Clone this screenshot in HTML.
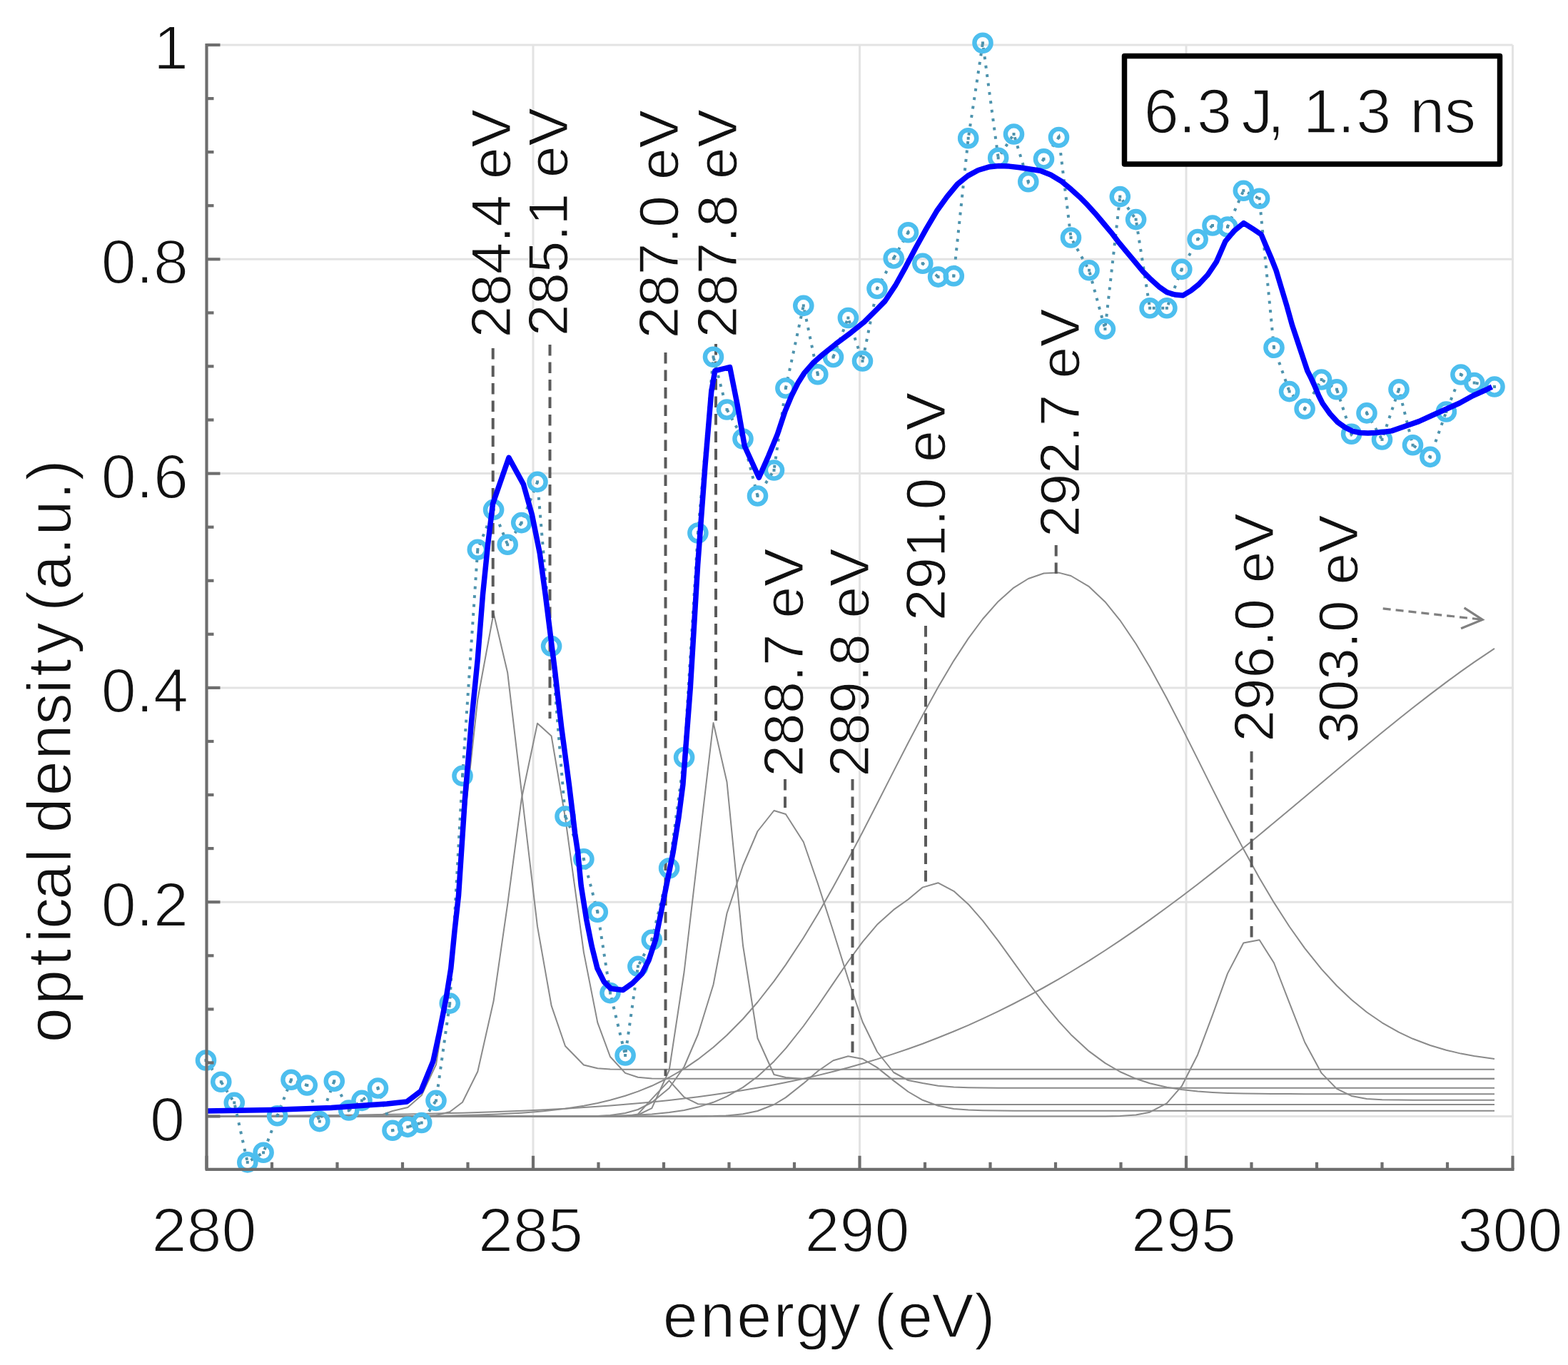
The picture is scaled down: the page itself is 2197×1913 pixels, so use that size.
<!DOCTYPE html>
<html><head><meta charset="utf-8"><style>html,body{margin:0;padding:0;background:#fff;overflow:hidden}svg{display:block;filter:blur(0.7px)}</style></head>
<body><svg width="2197" height="1913" viewBox="0 0 2197 1913">
<rect width="2197" height="1913" fill="#fff"/>
<g stroke="#e3e3e3" stroke-width="3"><line x1="747.0" y1="63.0" x2="747.0" y2="1638.5"/><line x1="1204.5" y1="63.0" x2="1204.5" y2="1638.5"/><line x1="1662.0" y1="63.0" x2="1662.0" y2="1638.5"/><line x1="2119.5" y1="63.0" x2="2119.5" y2="1638.5"/><line x1="289.5" y1="1564.5" x2="2119.5" y2="1564.5"/><line x1="289.5" y1="1264.2" x2="2119.5" y2="1264.2"/><line x1="289.5" y1="963.9" x2="2119.5" y2="963.9"/><line x1="289.5" y1="663.6" x2="2119.5" y2="663.6"/><line x1="289.5" y1="363.3" x2="2119.5" y2="363.3"/><line x1="289.5" y1="63.0" x2="2119.5" y2="63.0"/></g>
<g fill="none" stroke="#8a8a8a" stroke-width="2" stroke-linejoin="round"><polyline points="288.5,1564.5 309.8,1564.5 328.3,1564.5 346.8,1564.5 369.1,1564.5 388.6,1564.5 408.0,1564.5 430.3,1564.5 447.8,1564.5 468.3,1564.5 488.7,1564.5 507.0,1564.5 529.5,1564.5 550.0,1557.0 571.3,1552.0 590.7,1535.0 611.0,1492.0 630.2,1370.0 648.0,1176.0 669.3,980.0 691.6,859.5 711.2,942.8 730.7,1109.0 753.0,1298.4 772.6,1409.4 792.0,1466.0 817.9,1492.5 837.3,1497.3 855.0,1498.4 876.1,1498.7 893.9,1498.7 913.3,1498.7 937.6,1498.7 958.6,1498.7 977.9,1498.7 999.5,1498.7 1018.5,1498.7 1041.0,1498.7 1061.5,1498.7 1084.5,1498.7 1100.9,1498.7 1125.8,1498.7 1145.8,1498.7 1167.5,1498.7 1188.4,1498.7 1208.5,1498.7 1229.0,1498.7 1252.2,1498.7 1272.5,1498.7 1292.8,1498.7 1314.6,1498.7 1336.3,1498.7 1356.7,1498.7 1377.0,1498.7 1398.7,1498.7 1420.5,1498.7 1440.8,1498.7 1462.5,1498.7 1483.5,1498.7 1500.5,1498.7 1526.0,1498.7 1548.4,1498.7 1569.3,1498.7 1591.6,1498.7 1611.1,1498.7 1634.9,1498.7 1655.8,1498.7 1678.1,1498.7 1699.0,1498.7 1720.0,1498.7 1742.3,1498.7 1764.6,1498.7 1785.0,1498.7 1806.6,1498.7 1828.1,1498.7 1851.6,1498.7 1873.0,1498.7 1893.6,1498.7 1915.0,1498.7 1936.5,1498.7 1960.0,1498.7 1979.5,1498.7 2003.9,1498.7 2026.4,1498.7 2046.9,1498.7 2065.7,1498.7 2094.0,1498.7"/><polyline points="288.5,1564.5 309.8,1564.5 328.3,1564.5 346.8,1564.5 369.1,1564.5 388.6,1564.5 408.0,1564.5 430.3,1564.5 447.8,1564.5 468.3,1564.5 488.7,1564.5 507.0,1564.5 529.5,1564.5 550.0,1564.5 571.3,1564.5 590.7,1564.2 611.0,1563.0 630.2,1558.3 648.0,1544.7 669.3,1501.7 691.6,1402.8 711.2,1267.2 730.7,1119.8 753.0,1013.7 772.6,1031.5 792.0,1145.8 817.9,1334.6 837.3,1433.1 855.0,1481.0 876.1,1503.9 893.9,1509.8 913.3,1511.4 937.6,1511.8 958.6,1511.8 977.9,1511.8 999.5,1511.8 1018.5,1511.8 1041.0,1511.8 1061.5,1511.8 1084.5,1511.8 1100.9,1511.8 1125.8,1511.8 1145.8,1511.8 1167.5,1511.8 1188.4,1511.8 1208.5,1511.8 1229.0,1511.8 1252.2,1511.8 1272.5,1511.8 1292.8,1511.8 1314.6,1511.8 1336.3,1511.8 1356.7,1511.8 1377.0,1511.8 1398.7,1511.8 1420.5,1511.8 1440.8,1511.8 1462.5,1511.8 1483.5,1511.8 1500.5,1511.8 1526.0,1511.8 1548.4,1511.8 1569.3,1511.8 1591.6,1511.8 1611.1,1511.8 1634.9,1511.8 1655.8,1511.8 1678.1,1511.8 1699.0,1511.8 1720.0,1511.8 1742.3,1511.8 1764.6,1511.8 1785.0,1511.8 1806.6,1511.8 1828.1,1511.8 1851.6,1511.8 1873.0,1511.8 1893.6,1511.8 1915.0,1511.8 1936.5,1511.8 1960.0,1511.8 1979.5,1511.8 2003.9,1511.8 2026.4,1511.8 2046.9,1511.8 2065.7,1511.8 2094.0,1511.8"/><polyline points="288.5,1564.5 309.8,1564.5 328.3,1564.5 346.8,1564.5 369.1,1564.5 388.6,1564.5 408.0,1564.5 430.3,1564.5 447.8,1564.5 468.3,1564.5 488.7,1564.5 507.0,1564.5 529.5,1564.5 550.0,1564.5 571.3,1564.5 590.7,1564.5 611.0,1564.5 630.2,1564.5 648.0,1564.5 669.3,1564.5 691.6,1564.5 711.2,1564.5 730.7,1564.5 753.0,1564.5 772.6,1564.5 792.0,1564.5 817.9,1564.5 837.3,1564.5 855.0,1564.5 876.1,1564.2 893.9,1562.5 913.3,1553.1 937.6,1500.0 958.6,1362.0 977.9,1197.0 999.5,1013.0 1018.5,1096.0 1041.0,1325.0 1061.5,1455.0 1084.5,1506.0 1100.9,1510.0 1125.8,1512.0 1145.8,1511.8 1167.5,1511.8 1188.4,1511.8 1208.5,1511.8 1229.0,1511.8 1252.2,1511.8 1272.5,1511.8 1292.8,1511.8 1314.6,1511.8 1336.3,1511.8 1356.7,1511.8 1377.0,1511.8 1398.7,1511.8 1420.5,1511.8 1440.8,1511.8 1462.5,1511.8 1483.5,1511.8 1500.5,1511.8 1526.0,1511.8 1548.4,1511.8 1569.3,1511.8 1591.6,1511.8 1611.1,1511.8 1634.9,1511.8 1655.8,1511.8 1678.1,1511.8 1699.0,1511.8 1720.0,1511.8 1742.3,1511.8 1764.6,1511.8 1785.0,1511.8 1806.6,1511.8 1828.1,1511.8 1851.6,1511.8 1873.0,1511.8 1893.6,1511.8 1915.0,1511.8 1936.5,1511.8 1960.0,1511.8 1979.5,1511.8 2003.9,1511.8 2026.4,1511.8 2046.9,1511.8 2065.7,1511.8 2094.0,1511.8"/><polyline points="288.5,1564.5 309.8,1564.5 328.3,1564.5 346.8,1564.5 369.1,1564.5 388.6,1564.5 408.0,1564.5 430.3,1564.5 447.8,1564.5 468.3,1564.5 488.7,1564.5 507.0,1564.5 529.5,1564.5 550.0,1564.5 571.3,1564.5 590.7,1564.5 611.0,1564.5 630.2,1564.5 648.0,1564.5 669.3,1564.5 691.6,1564.5 711.2,1564.5 730.7,1564.5 753.0,1564.5 772.6,1564.5 792.0,1564.5 817.9,1564.3 837.3,1563.9 855.0,1563.1 876.1,1560.0 893.9,1555.0 913.3,1545.0 937.6,1525.0 958.6,1495.0 977.9,1450.0 999.5,1380.0 1018.5,1280.0 1041.0,1213.0 1061.5,1165.0 1084.5,1136.0 1100.9,1141.0 1125.8,1180.0 1145.8,1238.0 1167.5,1305.0 1188.4,1372.0 1208.5,1432.0 1229.0,1474.0 1252.2,1503.0 1272.5,1514.0 1292.8,1518.0 1314.6,1521.7 1336.3,1523.6 1356.7,1524.3 1377.0,1524.6 1398.7,1524.7 1420.5,1524.7 1440.8,1524.7 1462.5,1524.7 1483.5,1524.7 1500.5,1524.7 1526.0,1524.7 1548.4,1524.7 1569.3,1524.7 1591.6,1524.7 1611.1,1524.7 1634.9,1524.7 1655.8,1524.7 1678.1,1524.7 1699.0,1524.7 1720.0,1524.7 1742.3,1524.7 1764.6,1524.7 1785.0,1524.7 1806.6,1524.7 1828.1,1524.7 1851.6,1524.7 1873.0,1524.7 1893.6,1524.7 1915.0,1524.7 1936.5,1524.7 1960.0,1524.7 1979.5,1524.7 2003.9,1524.7 2026.4,1524.7 2046.9,1524.7 2065.7,1524.7 2094.0,1524.7"/><polyline points="288.5,1564.5 309.8,1564.5 328.3,1564.5 346.8,1564.5 369.1,1564.5 388.6,1564.5 408.0,1564.5 430.3,1564.5 447.8,1564.5 468.3,1564.5 488.7,1564.5 507.0,1564.5 529.5,1564.5 550.0,1564.5 571.3,1564.5 590.7,1564.5 611.0,1564.5 630.2,1564.5 648.0,1564.5 669.3,1564.5 691.6,1564.5 711.2,1564.5 730.7,1564.5 753.0,1564.5 772.6,1564.4 792.0,1564.4 817.9,1564.3 837.3,1564.1 855.0,1563.8 876.1,1563.3 893.9,1562.6 913.3,1561.5 937.6,1559.1 958.6,1555.9 977.9,1551.6 999.5,1544.8 1018.5,1536.7 1041.0,1523.9 1061.5,1508.7 1084.5,1487.4 1100.9,1469.4 1125.8,1438.0 1145.8,1410.0 1167.5,1378.1 1188.4,1347.5 1208.5,1320.1 1229.0,1295.8 1252.2,1274.9 1272.5,1260.5 1292.8,1243.6 1314.6,1237.3 1336.3,1248.8 1356.7,1267.2 1377.0,1290.3 1398.7,1318.6 1420.5,1348.8 1440.8,1377.0 1462.5,1405.9 1483.5,1431.4 1500.5,1449.9 1526.0,1473.4 1548.4,1489.9 1569.3,1502.0 1591.6,1511.8 1611.1,1518.2 1634.9,1523.8 1655.8,1527.1 1678.1,1529.5 1699.0,1530.9 1720.0,1531.9 1742.3,1532.5 1764.6,1532.8 1785.0,1533.0 1806.6,1533.1 1828.1,1533.2 1851.6,1533.2 1873.0,1533.3 1893.6,1533.3 1915.0,1533.3 1936.5,1533.3 1960.0,1533.3 1979.5,1533.3 2003.9,1533.3 2026.4,1533.3 2046.9,1533.3 2065.7,1533.3 2094.0,1533.3"/><polyline points="288.5,1564.5 309.8,1564.5 328.3,1564.5 346.8,1564.5 369.1,1564.5 388.6,1564.5 408.0,1564.5 430.3,1564.5 447.8,1564.5 468.3,1564.4 488.7,1564.4 507.0,1564.4 529.5,1564.3 550.0,1564.2 571.3,1564.1 590.7,1563.9 611.0,1563.7 630.2,1563.4 648.0,1563.0 669.3,1562.5 691.6,1561.7 711.2,1560.8 730.7,1559.7 753.0,1558.0 772.6,1556.1 792.0,1553.8 817.9,1549.8 837.3,1546.0 855.0,1541.8 876.1,1535.7 893.9,1529.6 913.3,1521.8 937.6,1510.0 958.6,1497.8 977.9,1484.7 999.5,1467.8 1018.5,1450.8 1041.0,1428.0 1061.5,1404.5 1084.5,1375.1 1100.9,1352.1 1125.8,1314.2 1145.8,1281.2 1167.5,1243.1 1188.4,1204.6 1208.5,1166.2 1229.0,1126.2 1252.2,1080.6 1272.5,1041.0 1292.8,1002.4 1314.6,962.8 1336.3,926.1 1356.7,894.9 1377.0,867.5 1398.7,842.9 1420.5,823.6 1440.8,811.0 1462.5,803.5 1483.5,802.6 1500.5,807.0 1526.0,822.2 1548.4,843.4 1569.3,869.3 1591.6,902.3 1611.1,935.1 1634.9,978.7 1655.8,1019.4 1678.1,1063.9 1699.0,1105.9 1720.0,1147.5 1742.3,1190.1 1764.6,1230.5 1785.0,1264.9 1806.6,1298.5 1828.1,1328.8 1851.6,1358.1 1873.0,1381.5 1893.6,1401.0 1915.0,1418.5 1936.5,1433.3 1960.0,1446.7 1979.5,1455.8 2003.9,1465.0 2026.4,1471.7 2046.9,1476.6 2065.7,1480.1 2094.0,1484.1"/><polyline points="288.5,1564.5 309.8,1564.5 328.3,1564.5 346.8,1564.5 369.1,1564.5 388.6,1564.5 408.0,1564.5 430.3,1564.5 447.8,1564.5 468.3,1564.5 488.7,1564.5 507.0,1564.5 529.5,1564.5 550.0,1564.5 571.3,1564.5 590.7,1564.5 611.0,1564.5 630.2,1564.5 648.0,1564.5 669.3,1564.5 691.6,1564.5 711.2,1564.5 730.7,1564.5 753.0,1564.5 772.6,1564.5 792.0,1564.5 817.9,1564.5 837.3,1564.5 855.0,1564.5 876.1,1564.5 893.9,1564.5 913.3,1564.5 937.6,1564.5 958.6,1564.5 977.9,1564.5 999.5,1564.5 1018.5,1564.5 1041.0,1564.5 1061.5,1564.5 1084.5,1564.5 1100.9,1564.5 1125.8,1564.5 1145.8,1564.5 1167.5,1564.5 1188.4,1564.5 1208.5,1564.5 1229.0,1564.5 1252.2,1564.5 1272.5,1564.5 1292.8,1564.5 1314.6,1564.5 1336.3,1564.5 1356.7,1564.5 1377.0,1564.5 1398.7,1564.5 1420.5,1564.5 1440.8,1564.5 1462.5,1564.5 1483.5,1564.5 1500.5,1564.5 1526.0,1564.5 1548.4,1564.4 1569.3,1564.0 1591.6,1562.6 1611.1,1558.7 1634.9,1546.2 1655.8,1522.2 1678.1,1478.2 1699.0,1422.4 1720.0,1364.4 1742.3,1321.5 1764.6,1317.2 1785.0,1349.5 1806.6,1405.3 1828.1,1460.5 1851.6,1503.9 1873.0,1525.9 1893.6,1535.9 1915.0,1539.9 1936.5,1541.2 1960.0,1541.6 1979.5,1541.7 2003.9,1541.7 2026.4,1541.7 2046.9,1541.7 2065.7,1541.7 2094.0,1541.7"/><polyline points="288.5,1564.0 309.8,1563.9 328.3,1563.9 346.8,1563.8 369.1,1563.7 388.6,1563.5 408.0,1563.4 430.3,1563.2 447.8,1563.1 468.3,1562.9 488.7,1562.7 507.0,1562.4 529.5,1562.1 550.0,1561.8 571.3,1561.4 590.7,1561.0 611.0,1560.6 630.2,1560.1 648.0,1559.7 669.3,1559.0 691.6,1558.3 711.2,1557.6 730.7,1556.8 753.0,1555.8 772.6,1554.8 792.0,1553.7 817.9,1552.1 837.3,1550.8 855.0,1549.5 876.1,1547.8 893.9,1546.3 913.3,1544.5 937.6,1541.9 958.6,1539.5 977.9,1537.2 999.5,1534.3 1018.5,1531.5 1041.0,1528.0 1061.5,1524.5 1084.5,1520.2 1100.9,1517.0 1125.8,1511.7 1145.8,1507.1 1167.5,1501.7 1188.4,1496.2 1208.5,1490.5 1229.0,1484.4 1252.2,1476.9 1272.5,1470.0 1292.8,1462.7 1314.6,1454.3 1336.3,1445.5 1356.7,1436.8 1377.0,1427.6 1398.7,1417.3 1420.5,1406.5 1440.8,1395.9 1462.5,1384.0 1483.5,1372.1 1500.5,1362.0 1526.0,1346.4 1548.4,1332.0 1569.3,1318.2 1591.6,1302.9 1611.1,1289.1 1634.9,1271.8 1655.8,1256.2 1678.1,1239.2 1699.0,1222.9 1720.0,1206.2 1742.3,1188.2 1764.6,1169.9 1785.0,1153.0 1806.6,1135.0 1828.1,1117.0 1851.6,1097.2 1873.0,1079.2 1893.6,1062.0 1915.0,1044.2 1936.5,1026.6 1960.0,1007.5 1979.5,992.0 2003.9,973.1 2026.4,956.1 2046.9,941.1 2065.7,927.9 2094.0,908.8"/><polyline points="288.5,1564.5 309.8,1564.5 328.3,1564.5 346.8,1564.5 369.1,1564.5 388.6,1564.5 408.0,1564.5 430.3,1564.5 447.8,1564.5 468.3,1564.5 488.7,1564.5 507.0,1564.5 529.5,1564.5 550.0,1564.5 571.3,1564.5 590.7,1564.5 611.0,1564.5 630.2,1564.5 648.0,1564.5 669.3,1564.5 691.6,1564.5 711.2,1564.5 730.7,1564.5 753.0,1564.5 772.6,1564.5 792.0,1564.5 817.9,1564.5 837.3,1564.5 855.0,1564.5 876.1,1564.4 893.9,1561.4 913.3,1540.1 937.6,1514.4 958.6,1537.6 977.9,1547.2 999.5,1548.0 1018.5,1548.0 1041.0,1548.0 1061.5,1548.0 1084.5,1548.0 1100.9,1548.0 1125.8,1548.0 1145.8,1548.0 1167.5,1548.0 1188.4,1548.0 1208.5,1548.0 1229.0,1548.0 1252.2,1548.0 1272.5,1548.0 1292.8,1548.0 1314.6,1548.0 1336.3,1548.0 1356.7,1548.0 1377.0,1548.0 1398.7,1548.0 1420.5,1548.0 1440.8,1548.0 1462.5,1548.0 1483.5,1548.0 1500.5,1548.0 1526.0,1548.0 1548.4,1548.0 1569.3,1548.0 1591.6,1548.0 1611.1,1548.0 1634.9,1548.0 1655.8,1548.0 1678.1,1548.0 1699.0,1548.0 1720.0,1548.0 1742.3,1548.0 1764.6,1548.0 1785.0,1548.0 1806.6,1548.0 1828.1,1548.0 1851.6,1548.0 1873.0,1548.0 1893.6,1548.0 1915.0,1548.0 1936.5,1548.0 1960.0,1548.0 1979.5,1548.0 2003.9,1548.0 2026.4,1548.0 2046.9,1548.0 2065.7,1548.0 2094.0,1548.0"/><polyline points="288.5,1564.5 309.8,1564.5 328.3,1564.5 346.8,1564.5 369.1,1564.5 388.6,1564.5 408.0,1564.5 430.3,1564.5 447.8,1564.5 468.3,1564.5 488.7,1564.5 507.0,1564.5 529.5,1564.5 550.0,1564.5 571.3,1564.5 590.7,1564.5 611.0,1564.5 630.2,1564.5 648.0,1564.5 669.3,1564.5 691.6,1564.5 711.2,1564.5 730.7,1564.5 753.0,1564.5 772.6,1564.5 792.0,1564.5 817.9,1564.5 837.3,1564.5 855.0,1564.5 876.1,1564.5 893.9,1564.5 913.3,1564.5 937.6,1564.5 958.6,1564.5 977.9,1564.4 999.5,1564.1 1018.5,1563.4 1041.0,1561.3 1061.5,1557.0 1084.5,1548.0 1100.9,1538.1 1125.8,1518.4 1145.8,1501.2 1167.5,1486.3 1188.4,1480.2 1208.5,1484.0 1229.0,1496.1 1252.2,1514.6 1272.5,1530.0 1292.8,1541.8 1314.6,1549.7 1336.3,1553.9 1356.7,1555.6 1377.0,1556.3 1398.7,1556.6 1420.5,1556.7 1440.8,1556.7 1462.5,1556.7 1483.5,1556.7 1500.5,1556.7 1526.0,1556.7 1548.4,1556.7 1569.3,1556.7 1591.6,1556.7 1611.1,1556.7 1634.9,1556.7 1655.8,1556.7 1678.1,1556.7 1699.0,1556.7 1720.0,1556.7 1742.3,1556.7 1764.6,1556.7 1785.0,1556.7 1806.6,1556.7 1828.1,1556.7 1851.6,1556.7 1873.0,1556.7 1893.6,1556.7 1915.0,1556.7 1936.5,1556.7 1960.0,1556.7 1979.5,1556.7 2003.9,1556.7 2026.4,1556.7 2046.9,1556.7 2065.7,1556.7 2094.0,1556.7"/></g>
<g stroke="#5a5a5a" stroke-width="4" stroke-dasharray="15.5 9"><line x1="690.7" y1="488" x2="690.7" y2="866"/><line x1="770.5" y1="483" x2="770.5" y2="1007"/><line x1="932.5" y1="494" x2="932.5" y2="1508"/><line x1="1003" y1="482" x2="1003" y2="1010"/><line x1="1100" y1="1092" x2="1100" y2="1136"/><line x1="1194.5" y1="1092" x2="1194.5" y2="1480"/><line x1="1297" y1="877" x2="1297" y2="1240"/><line x1="1479.7" y1="764" x2="1479.7" y2="804"/><line x1="1753.6" y1="1053" x2="1753.6" y2="1318"/></g>
<g stroke="#808080" stroke-width="3.2" fill="none"><line x1="1937.7" y1="852.9" x2="2074" y2="868" stroke-dasharray="11 7"/><polyline points="2051.6,851.8 2077.2,868.5 2047.1,880.8" stroke-linejoin="miter"/></g>
<polyline points="288.5,1486.0 309.8,1516.2 328.3,1545.4 346.8,1628.9 369.1,1615.3 388.6,1563.8 408.0,1513.3 430.3,1521.0 447.8,1571.6 468.3,1515.2 488.7,1556.0 507.0,1542.4 529.5,1525.0 550.0,1584.2 571.3,1579.4 590.7,1573.5 611.0,1542.4 630.2,1406.1 648.0,1087.4 669.3,770.2 691.6,714.4 711.2,763.3 730.7,732.6 753.0,675.4 772.6,905.6 792.0,1144.0 817.9,1203.9 837.3,1278.3 855.0,1391.6 876.1,1479.0 893.9,1354.4 913.3,1317.2 937.6,1216.8 958.6,1061.5 977.9,747.0 999.5,500.3 1018.5,574.0 1041.0,615.0 1061.5,695.0 1084.5,659.0 1100.9,544.0 1125.8,428.4 1145.8,524.8 1167.5,500.5 1188.4,445.5 1208.5,506.0 1229.0,404.5 1252.2,362.0 1272.5,325.8 1292.8,369.3 1314.6,388.1 1336.3,386.7 1356.7,193.8 1377.0,60.3 1398.7,221.3 1420.5,188.0 1440.8,254.7 1462.5,222.8 1483.5,192.5 1500.5,333.0 1526.0,378.8 1548.4,461.1 1569.3,275.6 1591.6,307.6 1611.1,431.8 1634.9,431.8 1655.8,377.4 1678.1,335.5 1699.0,316.0 1720.0,318.0 1742.3,267.2 1764.6,278.3 1785.0,487.3 1806.6,548.6 1828.1,573.0 1851.6,532.0 1873.0,545.7 1893.6,608.2 1915.0,578.9 1936.5,616.0 1960.0,545.7 1979.5,623.8 2003.9,640.4 2026.4,577.0 2046.9,525.0 2065.7,536.5 2094.0,542.0" fill="none" stroke="#4d93ad" stroke-width="4" stroke-dasharray="4 8.5"/>
<g fill="none" stroke="#4dbeee" stroke-width="6.4"><circle cx="288.5" cy="1486.0" r="11.6"/><circle cx="309.8" cy="1516.2" r="11.6"/><circle cx="328.3" cy="1545.4" r="11.6"/><circle cx="346.8" cy="1628.9" r="11.6"/><circle cx="369.1" cy="1615.3" r="11.6"/><circle cx="388.6" cy="1563.8" r="11.6"/><circle cx="408.0" cy="1513.3" r="11.6"/><circle cx="430.3" cy="1521.0" r="11.6"/><circle cx="447.8" cy="1571.6" r="11.6"/><circle cx="468.3" cy="1515.2" r="11.6"/><circle cx="488.7" cy="1556.0" r="11.6"/><circle cx="507.0" cy="1542.4" r="11.6"/><circle cx="529.5" cy="1525.0" r="11.6"/><circle cx="550.0" cy="1584.2" r="11.6"/><circle cx="571.3" cy="1579.4" r="11.6"/><circle cx="590.7" cy="1573.5" r="11.6"/><circle cx="611.0" cy="1542.4" r="11.6"/><circle cx="630.2" cy="1406.1" r="11.6"/><circle cx="648.0" cy="1087.4" r="11.6"/><circle cx="669.3" cy="770.2" r="11.6"/><circle cx="691.6" cy="714.4" r="11.6"/><circle cx="711.2" cy="763.3" r="11.6"/><circle cx="730.7" cy="732.6" r="11.6"/><circle cx="753.0" cy="675.4" r="11.6"/><circle cx="772.6" cy="905.6" r="11.6"/><circle cx="792.0" cy="1144.0" r="11.6"/><circle cx="817.9" cy="1203.9" r="11.6"/><circle cx="837.3" cy="1278.3" r="11.6"/><circle cx="855.0" cy="1391.6" r="11.6"/><circle cx="876.1" cy="1479.0" r="11.6"/><circle cx="893.9" cy="1354.4" r="11.6"/><circle cx="913.3" cy="1317.2" r="11.6"/><circle cx="937.6" cy="1216.8" r="11.6"/><circle cx="958.6" cy="1061.5" r="11.6"/><circle cx="977.9" cy="747.0" r="11.6"/><circle cx="999.5" cy="500.3" r="11.6"/><circle cx="1018.5" cy="574.0" r="11.6"/><circle cx="1041.0" cy="615.0" r="11.6"/><circle cx="1061.5" cy="695.0" r="11.6"/><circle cx="1084.5" cy="659.0" r="11.6"/><circle cx="1100.9" cy="544.0" r="11.6"/><circle cx="1125.8" cy="428.4" r="11.6"/><circle cx="1145.8" cy="524.8" r="11.6"/><circle cx="1167.5" cy="500.5" r="11.6"/><circle cx="1188.4" cy="445.5" r="11.6"/><circle cx="1208.5" cy="506.0" r="11.6"/><circle cx="1229.0" cy="404.5" r="11.6"/><circle cx="1252.2" cy="362.0" r="11.6"/><circle cx="1272.5" cy="325.8" r="11.6"/><circle cx="1292.8" cy="369.3" r="11.6"/><circle cx="1314.6" cy="388.1" r="11.6"/><circle cx="1336.3" cy="386.7" r="11.6"/><circle cx="1356.7" cy="193.8" r="11.6"/><circle cx="1377.0" cy="60.3" r="11.6"/><circle cx="1398.7" cy="221.3" r="11.6"/><circle cx="1420.5" cy="188.0" r="11.6"/><circle cx="1440.8" cy="254.7" r="11.6"/><circle cx="1462.5" cy="222.8" r="11.6"/><circle cx="1483.5" cy="192.5" r="11.6"/><circle cx="1500.5" cy="333.0" r="11.6"/><circle cx="1526.0" cy="378.8" r="11.6"/><circle cx="1548.4" cy="461.1" r="11.6"/><circle cx="1569.3" cy="275.6" r="11.6"/><circle cx="1591.6" cy="307.6" r="11.6"/><circle cx="1611.1" cy="431.8" r="11.6"/><circle cx="1634.9" cy="431.8" r="11.6"/><circle cx="1655.8" cy="377.4" r="11.6"/><circle cx="1678.1" cy="335.5" r="11.6"/><circle cx="1699.0" cy="316.0" r="11.6"/><circle cx="1720.0" cy="318.0" r="11.6"/><circle cx="1742.3" cy="267.2" r="11.6"/><circle cx="1764.6" cy="278.3" r="11.6"/><circle cx="1785.0" cy="487.3" r="11.6"/><circle cx="1806.6" cy="548.6" r="11.6"/><circle cx="1828.1" cy="573.0" r="11.6"/><circle cx="1851.6" cy="532.0" r="11.6"/><circle cx="1873.0" cy="545.7" r="11.6"/><circle cx="1893.6" cy="608.2" r="11.6"/><circle cx="1915.0" cy="578.9" r="11.6"/><circle cx="1936.5" cy="616.0" r="11.6"/><circle cx="1960.0" cy="545.7" r="11.6"/><circle cx="1979.5" cy="623.8" r="11.6"/><circle cx="2003.9" cy="640.4" r="11.6"/><circle cx="2026.4" cy="577.0" r="11.6"/><circle cx="2046.9" cy="525.0" r="11.6"/><circle cx="2065.7" cy="536.5" r="11.6"/><circle cx="2094.0" cy="542.0" r="11.6"/></g>
<g fill="#4d93ad"><rect x="286.5" y="1484.0" width="4" height="4"/><rect x="307.8" y="1514.2" width="4" height="4"/><rect x="326.3" y="1543.4" width="4" height="4"/><rect x="344.8" y="1626.9" width="4" height="4"/><rect x="367.1" y="1613.3" width="4" height="4"/><rect x="386.6" y="1561.8" width="4" height="4"/><rect x="406.0" y="1511.3" width="4" height="4"/><rect x="428.3" y="1519.0" width="4" height="4"/><rect x="445.8" y="1569.6" width="4" height="4"/><rect x="466.3" y="1513.2" width="4" height="4"/><rect x="486.7" y="1554.0" width="4" height="4"/><rect x="505.0" y="1540.4" width="4" height="4"/><rect x="527.5" y="1523.0" width="4" height="4"/><rect x="548.0" y="1582.2" width="4" height="4"/><rect x="569.3" y="1577.4" width="4" height="4"/><rect x="588.7" y="1571.5" width="4" height="4"/><rect x="609.0" y="1540.4" width="4" height="4"/><rect x="628.2" y="1404.1" width="4" height="4"/><rect x="646.0" y="1085.4" width="4" height="4"/><rect x="667.3" y="768.2" width="4" height="4"/><rect x="689.6" y="712.4" width="4" height="4"/><rect x="709.2" y="761.3" width="4" height="4"/><rect x="728.7" y="730.6" width="4" height="4"/><rect x="751.0" y="673.4" width="4" height="4"/><rect x="770.6" y="903.6" width="4" height="4"/><rect x="790.0" y="1142.0" width="4" height="4"/><rect x="815.9" y="1201.9" width="4" height="4"/><rect x="835.3" y="1276.3" width="4" height="4"/><rect x="853.0" y="1389.6" width="4" height="4"/><rect x="874.1" y="1477.0" width="4" height="4"/><rect x="891.9" y="1352.4" width="4" height="4"/><rect x="911.3" y="1315.2" width="4" height="4"/><rect x="935.6" y="1214.8" width="4" height="4"/><rect x="956.6" y="1059.5" width="4" height="4"/><rect x="975.9" y="745.0" width="4" height="4"/><rect x="997.5" y="498.3" width="4" height="4"/><rect x="1016.5" y="572.0" width="4" height="4"/><rect x="1039.0" y="613.0" width="4" height="4"/><rect x="1059.5" y="693.0" width="4" height="4"/><rect x="1082.5" y="657.0" width="4" height="4"/><rect x="1098.9" y="542.0" width="4" height="4"/><rect x="1123.8" y="426.4" width="4" height="4"/><rect x="1143.8" y="522.8" width="4" height="4"/><rect x="1165.5" y="498.5" width="4" height="4"/><rect x="1186.4" y="443.5" width="4" height="4"/><rect x="1206.5" y="504.0" width="4" height="4"/><rect x="1227.0" y="402.5" width="4" height="4"/><rect x="1250.2" y="360.0" width="4" height="4"/><rect x="1270.5" y="323.8" width="4" height="4"/><rect x="1290.8" y="367.3" width="4" height="4"/><rect x="1312.6" y="386.1" width="4" height="4"/><rect x="1334.3" y="384.7" width="4" height="4"/><rect x="1354.7" y="191.8" width="4" height="4"/><rect x="1375.0" y="58.3" width="4" height="4"/><rect x="1396.7" y="219.3" width="4" height="4"/><rect x="1418.5" y="186.0" width="4" height="4"/><rect x="1438.8" y="252.7" width="4" height="4"/><rect x="1460.5" y="220.8" width="4" height="4"/><rect x="1481.5" y="190.5" width="4" height="4"/><rect x="1498.5" y="331.0" width="4" height="4"/><rect x="1524.0" y="376.8" width="4" height="4"/><rect x="1546.4" y="459.1" width="4" height="4"/><rect x="1567.3" y="273.6" width="4" height="4"/><rect x="1589.6" y="305.6" width="4" height="4"/><rect x="1609.1" y="429.8" width="4" height="4"/><rect x="1632.9" y="429.8" width="4" height="4"/><rect x="1653.8" y="375.4" width="4" height="4"/><rect x="1676.1" y="333.5" width="4" height="4"/><rect x="1697.0" y="314.0" width="4" height="4"/><rect x="1718.0" y="316.0" width="4" height="4"/><rect x="1740.3" y="265.2" width="4" height="4"/><rect x="1762.6" y="276.3" width="4" height="4"/><rect x="1783.0" y="485.3" width="4" height="4"/><rect x="1804.6" y="546.6" width="4" height="4"/><rect x="1826.1" y="571.0" width="4" height="4"/><rect x="1849.6" y="530.0" width="4" height="4"/><rect x="1871.0" y="543.7" width="4" height="4"/><rect x="1891.6" y="606.2" width="4" height="4"/><rect x="1913.0" y="576.9" width="4" height="4"/><rect x="1934.5" y="614.0" width="4" height="4"/><rect x="1958.0" y="543.7" width="4" height="4"/><rect x="1977.5" y="621.8" width="4" height="4"/><rect x="2001.9" y="638.4" width="4" height="4"/><rect x="2024.4" y="575.0" width="4" height="4"/><rect x="2044.9" y="523.0" width="4" height="4"/><rect x="2063.7" y="534.5" width="4" height="4"/><rect x="2092.0" y="540.0" width="4" height="4"/></g>
<polyline points="289.0,1557.0 380.0,1555.5 464.0,1552.5 542.0,1547.0 570.0,1544.0 589.8,1529.0 606.8,1487.5 615.7,1446.4 624.6,1401.8 631.8,1357.1 637.1,1303.6 642.5,1255.0 651.4,1120.0 660.4,1012.9 669.3,923.6 676.4,834.3 683.6,762.9 690.5,706.0 712.9,641.4 733.5,678.9 745.5,721.8 756.3,775.4 764.3,834.3 771.0,887.9 777.7,941.5 782.1,980.0 786.8,1020.2 792.2,1060.4 797.5,1100.6 801.6,1134.2 805.6,1167.7 809.6,1194.5 814.2,1241.3 821.7,1288.7 829.3,1326.7 836.9,1357.0 846.4,1376.0 855.9,1385.5 873.0,1387.4 886.3,1377.9 899.5,1364.6 909.0,1345.7 918.5,1317.2 928.0,1269.8 935.6,1231.8 943.2,1193.9 950.8,1146.4 956.9,1099.4 967.3,963.9 977.7,791.1 988.0,652.8 996.7,549.1 1001.8,519.7 1022.6,514.6 1033.0,566.4 1043.3,625.2 1063.4,669.3 1076.8,638.9 1089.3,608.6 1100.0,576.4 1108.9,555.0 1117.9,537.1 1126.8,522.9 1139.3,508.6 1153.6,496.1 1171.4,481.8 1192.9,465.7 1210.7,451.4 1228.6,433.6 1240.0,422.0 1254.5,400.2 1269.0,374.1 1283.5,346.5 1298.0,320.4 1312.5,295.8 1327.1,275.5 1341.6,258.0 1356.1,246.4 1370.6,238.5 1385.1,234.1 1399.6,232.6 1414.1,233.1 1428.6,234.8 1443.1,237.0 1457.6,239.2 1472.2,245.0 1486.7,253.7 1501.2,265.7 1512.3,275.7 1523.5,286.9 1534.6,299.2 1545.8,312.5 1557.0,325.8 1568.1,340.4 1579.3,353.8 1590.4,367.2 1601.6,380.6 1612.8,391.8 1623.9,401.8 1635.1,409.6 1646.3,413.0 1657.4,414.1 1668.6,407.4 1679.7,398.5 1692.3,385.0 1704.6,366.6 1716.8,338.4 1729.1,323.7 1742.6,312.6 1756.1,321.2 1767.2,328.6 1773.3,343.3 1780.7,360.5 1788.0,378.9 1795.4,403.5 1802.8,428.0 1810.6,455.9 1815.9,471.8 1821.2,487.7 1826.5,503.6 1831.8,519.5 1837.1,530.1 1842.4,541.8 1847.7,554.5 1853.0,565.1 1863.6,580.0 1874.2,591.6 1884.8,599.1 1895.4,604.4 1906.0,606.5 1916.6,607.0 1927.3,606.5 1937.9,605.4 1950.0,603.9 1969.0,597.2 1988.0,590.6 2006.9,582.0 2025.9,573.5 2044.9,565.0 2063.9,554.5 2082.8,546.0 2090.4,542.2" fill="none" stroke="#0000ff" stroke-width="7.5" stroke-linejoin="round"/>
<g stroke="#6e6e6e" stroke-width="4.2"><line x1="289.5" y1="61" x2="289.5" y2="1640.5"/><line x1="288.0" y1="1638.8" x2="2121.5" y2="1638.8"/><line x1="289.5" y1="1564.5" x2="308.5" y2="1564.5"/><line x1="289.5" y1="1489.4" x2="299.5" y2="1489.4"/><line x1="289.5" y1="1414.4" x2="299.5" y2="1414.4"/><line x1="289.5" y1="1339.3" x2="299.5" y2="1339.3"/><line x1="289.5" y1="1264.2" x2="308.5" y2="1264.2"/><line x1="289.5" y1="1189.1" x2="299.5" y2="1189.1"/><line x1="289.5" y1="1114.0" x2="299.5" y2="1114.0"/><line x1="289.5" y1="1039.0" x2="299.5" y2="1039.0"/><line x1="289.5" y1="963.9" x2="308.5" y2="963.9"/><line x1="289.5" y1="888.8" x2="299.5" y2="888.8"/><line x1="289.5" y1="813.8" x2="299.5" y2="813.8"/><line x1="289.5" y1="738.7" x2="299.5" y2="738.7"/><line x1="289.5" y1="663.6" x2="308.5" y2="663.6"/><line x1="289.5" y1="588.5" x2="299.5" y2="588.5"/><line x1="289.5" y1="513.4" x2="299.5" y2="513.4"/><line x1="289.5" y1="438.4" x2="299.5" y2="438.4"/><line x1="289.5" y1="363.3" x2="308.5" y2="363.3"/><line x1="289.5" y1="288.2" x2="299.5" y2="288.2"/><line x1="289.5" y1="213.1" x2="299.5" y2="213.1"/><line x1="289.5" y1="138.1" x2="299.5" y2="138.1"/><line x1="289.5" y1="63.0" x2="308.5" y2="63.0"/><line x1="289.5" y1="1638.8" x2="289.5" y2="1619.8"/><line x1="381.0" y1="1638.8" x2="381.0" y2="1628.8"/><line x1="472.5" y1="1638.8" x2="472.5" y2="1628.8"/><line x1="564.0" y1="1638.8" x2="564.0" y2="1628.8"/><line x1="655.5" y1="1638.8" x2="655.5" y2="1628.8"/><line x1="747.0" y1="1638.8" x2="747.0" y2="1619.8"/><line x1="838.5" y1="1638.8" x2="838.5" y2="1628.8"/><line x1="930.0" y1="1638.8" x2="930.0" y2="1628.8"/><line x1="1021.5" y1="1638.8" x2="1021.5" y2="1628.8"/><line x1="1113.0" y1="1638.8" x2="1113.0" y2="1628.8"/><line x1="1204.5" y1="1638.8" x2="1204.5" y2="1619.8"/><line x1="1296.0" y1="1638.8" x2="1296.0" y2="1628.8"/><line x1="1387.5" y1="1638.8" x2="1387.5" y2="1628.8"/><line x1="1479.0" y1="1638.8" x2="1479.0" y2="1628.8"/><line x1="1570.5" y1="1638.8" x2="1570.5" y2="1628.8"/><line x1="1662.0" y1="1638.8" x2="1662.0" y2="1619.8"/><line x1="1753.5" y1="1638.8" x2="1753.5" y2="1628.8"/><line x1="1845.0" y1="1638.8" x2="1845.0" y2="1628.8"/><line x1="1936.5" y1="1638.8" x2="1936.5" y2="1628.8"/><line x1="2028.0" y1="1638.8" x2="2028.0" y2="1628.8"/><line x1="2119.5" y1="1638.8" x2="2119.5" y2="1619.8"/></g>
<g font-family="'Liberation Sans', sans-serif" font-size="88" fill="#111" stroke="#fff" stroke-width="1.8"><text x="286.0" y="1753.5" text-anchor="middle">280</text><text x="743.5" y="1753.5" text-anchor="middle">285</text><text x="1201.0" y="1753.5" text-anchor="middle">290</text><text x="1658.5" y="1753.5" text-anchor="middle">295</text><text x="2116.0" y="1753.5" text-anchor="middle">300</text><text x="259" y="1598.5" text-anchor="end">0</text><text x="264" y="1298.2" text-anchor="end">0.2</text><text x="264" y="997.9" text-anchor="end">0.4</text><text x="264" y="697.6" text-anchor="end">0.6</text><text x="264" y="397.3" text-anchor="end">0.8</text><text x="264" y="97.0" text-anchor="end">1</text></g>
<g font-family="'Liberation Sans', sans-serif" font-size="78" fill="#111" stroke="#fff" stroke-width="1.1"><text transform="translate(714.5,473.2) rotate(-90)" textLength="320" lengthAdjust="spacingAndGlyphs">284.4 eV</text><text transform="translate(795.0,471.1) rotate(-90)" textLength="320" lengthAdjust="spacingAndGlyphs">285.1 eV</text><text transform="translate(950.2,474.2) rotate(-90)" textLength="320" lengthAdjust="spacingAndGlyphs">287.0 eV</text><text transform="translate(1031.9,473.2) rotate(-90)" textLength="320" lengthAdjust="spacingAndGlyphs">287.8 eV</text><text transform="translate(1125.2,1088.6) rotate(-90)" textLength="320" lengthAdjust="spacingAndGlyphs">288.7 eV</text><text transform="translate(1217.0,1088.6) rotate(-90)" textLength="320" lengthAdjust="spacingAndGlyphs">289.8 eV</text><text transform="translate(1324.4,869.9) rotate(-90)" textLength="320" lengthAdjust="spacingAndGlyphs">291.0 eV</text><text transform="translate(1511.9,752.7) rotate(-90)" textLength="320" lengthAdjust="spacingAndGlyphs">292.7 eV</text><text transform="translate(1783.8,1039.4) rotate(-90)" textLength="320" lengthAdjust="spacingAndGlyphs">296.0 eV</text><text transform="translate(1902.1,1041.6) rotate(-90)" textLength="320" lengthAdjust="spacingAndGlyphs">303.0 eV</text></g>
<rect x="1575.5" y="78.5" width="526" height="151.5" fill="#fff" stroke="#000" stroke-width="7.5" stroke-linejoin="round"/>
<text x="1602.65 1651.25 1677.1 1720 1739.5 1775.45 1800 1825.85 1874.05 1900.25 1950 1975.15 2023.9" y="185.5" font-family="'Liberation Sans', sans-serif" font-size="88" fill="#111" stroke="#fff" stroke-width="1.6">6.3 J, 1.3 ns</text>
<text x="928.85 980.95 1032.35 1083.7 1114.3 1162.1 1200 1224.75 1257.95 1305.55 1364.9" y="1874.3" font-family="'Liberation Sans', sans-serif" font-size="88" fill="#111" stroke="#fff" stroke-width="1.4">energy (eV)</text>
<text transform="translate(98.6,1460) rotate(-90)" x="-1.3 52 106 138.9 158.1 198.9 251 270 292.8 344.8 395.5 444.4 488.1 512.3 543.7 590 602.9 632.9 682.6 709.4 759.9 786.3" y="0" font-family="'Liberation Sans', sans-serif" font-size="88" fill="#111" stroke="#fff" stroke-width="1.4">optical density (a.u.)</text>
</svg></body></html>
